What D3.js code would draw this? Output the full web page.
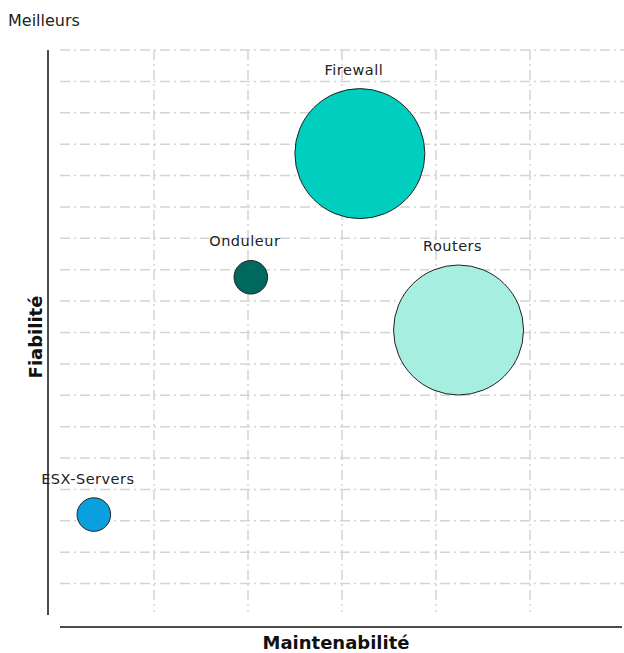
<!DOCTYPE html>
<html>
<head>
<meta charset="utf-8">
<script src="https://cdn.jsdelivr.net/npm/d3@7"></script>
<style>
  body { margin: 0; background: #fff; }
  svg text { font-family: "DejaVu Sans", sans-serif; }
  .grid line { stroke: #d4d4d4; stroke-width: 1.5; stroke-dasharray: 10,4,2,4; }
  .bubble-label { font-size: 14.5px; letter-spacing: 0.5px; fill: #222; }
  .axis-title { font-size: 18px; font-weight: bold; fill: #111; }
</style>
</head>
<body>
<svg width="624" height="653"></svg>
<script>
const svg = d3.select('svg');

// data
const names = ['ESX-Servers', 'Onduleur', 'Firewall', 'Routers'];
const maintenabilite = [0.36, 2.03, 3.19, 4.24];
const fiabilite = [3.2, 10.76, 14.7, 9.08];
const poids = [1, 1, 15, 15];
const colors = ['#0a9fdf', '#00695f', '#00cebf', '#a6eee0'];

const xTicks = [1, 2, 3, 4, 5];
const yTicks = d3.range(1, 19);

const xScale = d3.scaleLinear().domain([0, 6]).range([60, 624]);
const yScale = d3.scaleLinear().domain([0, 18]).range([615, 50]);
const rScale = d3.scaleSqrt().domain([0, d3.max(poids)]).range([0, 65]);

// grid
const grid = svg.append('g').attr('class', 'grid');
grid.selectAll('.h').data(yTicks).enter().append('line')
    .attr('class', 'h')
    .attr('x1', xScale(0)).attr('x2', xScale(6))
    .attr('y1', d => yScale(d)).attr('y2', d => yScale(d));
grid.selectAll('.v').data(xTicks).enter().append('line')
    .attr('class', 'v')
    .attr('y1', yScale(18)).attr('y2', yScale(0) - 3)
    .attr('x1', d => xScale(d)).attr('x2', d => xScale(d));

// axis lines
svg.append('line')
    .attr('x1', 48).attr('x2', 48)
    .attr('y1', yScale(18)).attr('y2', yScale(0))
    .attr('stroke', '#111').attr('stroke-width', 1.5);
svg.append('line')
    .attr('x1', xScale(0)).attr('x2', xScale(6) - 2)
    .attr('y1', 627).attr('y2', 627)
    .attr('stroke', '#111').attr('stroke-width', 1.5);

// bubbles
const data = names.map((n, i) => ({
    name: n, x: maintenabilite[i], y: fiabilite[i], size: poids[i], color: colors[i]
}));

const bubbles = svg.append('g').selectAll('g').data(data).enter().append('g');
bubbles.append('circle')
    .attr('cx', d => xScale(d.x))
    .attr('cy', d => yScale(d.y))
    .attr('r', d => rScale(d.size))
    .attr('fill', d => d.color)
    .attr('stroke', '#222')
    .attr('stroke-width', 1);
bubbles.append('text')
    .attr('class', 'bubble-label')
    .attr('x', d => xScale(d.x) - 6)
    .attr('y', d => yScale(d.y) - rScale(d.size) - 14)
    .attr('text-anchor', 'middle')
    .text(d => d.name);

// titles
svg.append('text')
    .attr('x', 8).attr('y', 26)
    .attr('font-size', 16).attr('fill', '#222')
    .text('Meilleurs');

svg.append('text')
    .attr('class', 'axis-title')
    .attr('x', 336).attr('y', 649)
    .attr('text-anchor', 'middle')
    .text('Maintenabilité');

svg.append('text')
    .attr('class', 'axis-title')
    .attr('transform', 'translate(42, 337) rotate(-90)')
    .attr('text-anchor', 'middle')
    .text('Fiabilité');
</script>
</body>
</html>
